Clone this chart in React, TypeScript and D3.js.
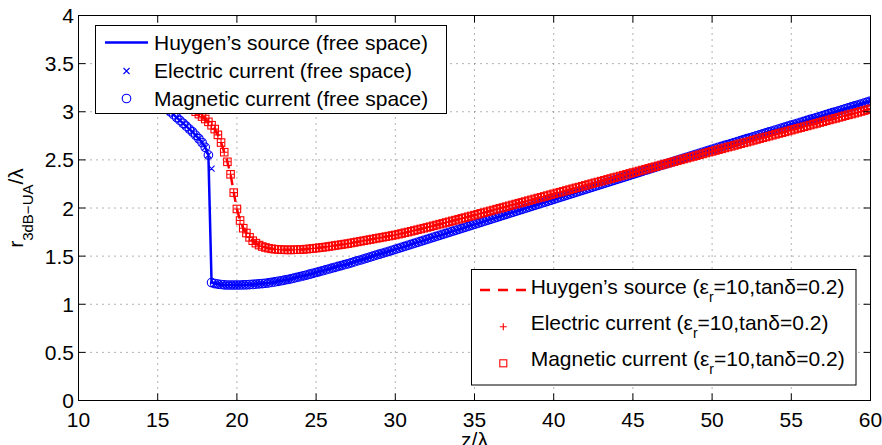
import React from 'react';
import * as d3 from 'd3';

// ---- sample grid (z/λ) ----
const zStart = 12;
const zStepSize = 0.2;
const zCount = 241;
const zGrid = d3.range(zCount).map((i) => +(zStart + i * zStepSize).toFixed(1));

// ---- free space: Huygen's source (also used by electric / magnetic current) ----
const huygenFree = [
  3.50, 3.475, 3.45, 3.42, 3.40,
  3.38, 3.35, 3.33, 3.30, 3.28,
  3.25, 3.22, 3.20, 3.17, 3.14,
  3.11, 3.08, 3.06, 3.03, 3.00,
  2.97, 2.94, 2.91, 2.88, 2.85,
  2.82, 2.79, 2.755, 2.72, 2.68,
  2.63, 2.55, 1.225, 1.215, 1.21,
  1.205, 1.202, 1.20, 1.20, 1.20,
  1.20, 1.20, 1.201, 1.202, 1.204,
  1.206, 1.209, 1.212, 1.215, 1.218,
  1.222, 1.227, 1.232, 1.238, 1.244,
  1.250, 1.257, 1.264, 1.271, 1.279,
  1.287, 1.295, 1.303, 1.312, 1.321,
  1.330, 1.339, 1.348, 1.357, 1.366,
  1.375, 1.384, 1.393, 1.402, 1.411,
  1.420, 1.430, 1.440, 1.450, 1.460,
  1.470, 1.480, 1.490, 1.500, 1.510,
  1.520, 1.530, 1.540, 1.550, 1.560,
  1.570, 1.580, 1.591, 1.601, 1.612,
  1.622, 1.632, 1.643, 1.653, 1.664,
  1.674, 1.684, 1.695, 1.705, 1.716,
  1.726, 1.736, 1.747, 1.757, 1.768,
  1.778, 1.788, 1.799, 1.809, 1.820,
  1.830, 1.840, 1.851, 1.861, 1.872,
  1.882, 1.892, 1.903, 1.913, 1.924,
  1.934, 1.944, 1.955, 1.965, 1.976,
  1.986, 1.996, 2.007, 2.017, 2.028,
  2.038, 2.048, 2.059, 2.069, 2.080,
  2.090, 2.100, 2.111, 2.121, 2.132,
  2.142, 2.152, 2.163, 2.173, 2.184,
  2.194, 2.204, 2.215, 2.225, 2.236,
  2.246, 2.256, 2.267, 2.277, 2.288,
  2.298, 2.308, 2.319, 2.329, 2.340,
  2.350, 2.360, 2.371, 2.381, 2.392,
  2.402, 2.412, 2.423, 2.433, 2.444,
  2.454, 2.464, 2.475, 2.485, 2.496,
  2.506, 2.516, 2.527, 2.537, 2.548,
  2.558, 2.568, 2.579, 2.589, 2.600,
  2.610, 2.620, 2.630, 2.640, 2.650,
  2.660, 2.670, 2.680, 2.690, 2.700,
  2.710, 2.720, 2.730, 2.740, 2.750,
  2.760, 2.770, 2.780, 2.790, 2.800,
  2.810, 2.820, 2.830, 2.840, 2.850,
  2.860, 2.870, 2.880, 2.890, 2.900,
  2.910, 2.920, 2.930, 2.940, 2.950,
  2.960, 2.970, 2.980, 2.990, 3.000,
  3.010, 3.020, 3.030, 3.040, 3.050,
  3.060, 3.070, 3.080, 3.090, 3.100,
  3.110,
];
// electric current (free space) differs from the Huygen's curve only here
const electricFreeDiffZ = [18.4];
const electricFreeDiffR = [2.41];

// ---- dielectric (εr=10, tanδ=0.2): Huygen's source (also electric / magnetic) ----
const huygenDiel = [
  3.75, 3.72, 3.69, 3.665, 3.64,
  3.61, 3.58, 3.55, 3.525, 3.50,
  3.47, 3.44, 3.41, 3.385, 3.36,
  3.33, 3.30, 3.27, 3.245, 3.22,
  3.19, 3.16, 3.13, 3.10, 3.075,
  3.05, 3.03, 3.00, 2.975, 2.95,
  2.925, 2.895, 2.86, 2.82, 2.76,
  2.68, 2.58, 2.48, 2.35, 2.16,
  1.99, 1.87, 1.79, 1.74, 1.695,
  1.66, 1.635, 1.615, 1.60, 1.59,
  1.582, 1.576, 1.572, 1.569, 1.567,
  1.566, 1.565, 1.565, 1.566, 1.567,
  1.568, 1.570, 1.573, 1.576, 1.579,
  1.583, 1.587, 1.591, 1.595, 1.600,
  1.605, 1.610, 1.615, 1.620, 1.625,
  1.630, 1.636, 1.642, 1.648, 1.654,
  1.660, 1.666, 1.672, 1.678, 1.684,
  1.690, 1.696, 1.702, 1.708, 1.714,
  1.720, 1.728, 1.735, 1.743, 1.750,
  1.758, 1.766, 1.774, 1.782, 1.790,
  1.798, 1.806, 1.815, 1.823, 1.832,
  1.840, 1.849, 1.857, 1.866, 1.874,
  1.883, 1.892, 1.900, 1.909, 1.917,
  1.926, 1.935, 1.944, 1.952, 1.961,
  1.970, 1.979, 1.988, 1.997, 2.005,
  2.014, 2.023, 2.032, 2.041, 2.050,
  2.058, 2.067, 2.076, 2.085, 2.094,
  2.103, 2.111, 2.120, 2.129, 2.138,
  2.147, 2.156, 2.164, 2.173, 2.182,
  2.191, 2.200, 2.209, 2.217, 2.226,
  2.235, 2.244, 2.253, 2.262, 2.270,
  2.279, 2.288, 2.297, 2.306, 2.315,
  2.323, 2.332, 2.341, 2.350, 2.359,
  2.368, 2.376, 2.385, 2.394, 2.403,
  2.412, 2.421, 2.429, 2.438, 2.447,
  2.456, 2.465, 2.474, 2.482, 2.491,
  2.500, 2.509, 2.518, 2.527, 2.535,
  2.544, 2.553, 2.562, 2.571, 2.580,
  2.588, 2.597, 2.606, 2.615, 2.624,
  2.633, 2.641, 2.650, 2.659, 2.668,
  2.677, 2.685, 2.694, 2.703, 2.712,
  2.721, 2.730, 2.738, 2.747, 2.756,
  2.765, 2.774, 2.782, 2.791, 2.800,
  2.809, 2.818, 2.827, 2.835, 2.844,
  2.853, 2.862, 2.871, 2.879, 2.888,
  2.897, 2.906, 2.915, 2.924, 2.932,
  2.941, 2.950, 2.959, 2.968, 2.976,
  2.985, 2.994, 3.003, 3.012, 3.021,
  3.030,
];

// ---- axes ----
const xTicks = [10, 15, 20, 25, 30, 35, 40, 45, 50, 55, 60];
const yTicks = [0, 0.5, 1, 1.5, 2, 2.5, 3, 3.5, 4];
const yTickLabels = ['0', '0.5', '1', '1.5', '2', '2.5', '3', '3.5', '4'];

const legendFree = [
  "Huygen\u2019s source (free space)",
  'Electric current (free space)',
  'Magnetic current (free space)',
];
const legendDielPrefix = ["Huygen\u2019s source (\u03b5", 'Electric current (\u03b5', 'Magnetic current (\u03b5'];
const legendDielSub = 'r';
const legendDielSuffix = '=10,tan\u03b4=0.2)';

const BLUE = '#0000ff';
const RED = '#ff0000';
const FONT = 'Liberation Sans, Arial, Helvetica, sans-serif';

type P = { z: number; r: number };

export default function App() {
  const W = 882, H = 445;
  const x = d3.scaleLinear().domain([10, 60]).range([78.5, 870.5]);
  const y = d3.scaleLinear().domain([0, 4]).range([400.5, 15.5]);
  const [x0, x1] = x.range();
  const [y0, y1] = y.range();

  const toPts = (arr: number[]): P[] => zGrid.map((z, i) => ({ z, r: arr[i] }));
  const freePts = toPts(huygenFree);
  const elecFreePts = freePts.map((p) => {
    const k = electricFreeDiffZ.indexOf(p.z);
    return k >= 0 ? { z: p.z, r: electricFreeDiffR[k] } : p;
  });
  const dielPts = toPts(huygenDiel);

  const line = d3.line<P>().x((d) => x(d.z)).y((d) => y(d.r));

  const xMark = (cx: number, cy: number, s = 3) =>
    `M${cx - s},${cy - s}L${cx + s},${cy + s}M${cx - s},${cy + s}L${cx + s},${cy - s}`;
  const plusMark = (cx: number, cy: number, s = 3.5) =>
    `M${cx - s},${cy}H${cx + s}M${cx},${cy - s}V${cy + s}`;

  const tickLen = 7;
  const sq = 7.5;

  return (
    <svg width={W} height={H} style={{ position: 'absolute', left: 0, top: 0, background: '#fff' }}
      fontFamily={FONT}>
      <rect x={0} y={0} width={W} height={H} fill="#fff" />
      <defs>
        <clipPath id="plotClip">
          <rect x={x0} y={y1} width={x1 - x0} height={y0 - y1} />
        </clipPath>
      </defs>
      {/* grid */}
      <g stroke="#666" strokeWidth={1} strokeDasharray="1,5">
        {xTicks.slice(1, -1).map((t) => (
          <line key={'gx' + t} x1={x(t)} x2={x(t)} y1={y0} y2={y1} />
        ))}
        {yTicks.slice(1, -1).map((t) => (
          <line key={'gy' + t} x1={x0} x2={x1} y1={y(t)} y2={y(t)} />
        ))}
      </g>

      {/* data */}
      <g clipPath="url(#plotClip)">
        <path d={line(freePts) || ''} fill="none" stroke={BLUE} strokeWidth={2.5} />
        <path
          d={elecFreePts.map((p) => xMark(x(p.z), y(p.r))).join('')}
          fill="none" stroke={BLUE} strokeWidth={1.1}
        />
        <g fill="none" stroke={BLUE} strokeWidth={1.1}>
          {freePts.map((p, i) => (
            <circle key={'mf' + i} cx={x(p.z)} cy={y(p.r)} r={4.3} />
          ))}
        </g>
        <path d={line(dielPts) || ''} fill="none" stroke={RED} strokeWidth={2.5} strokeDasharray="10,7" />
        <path
          d={dielPts.map((p) => plusMark(x(p.z), y(p.r))).join('')}
          fill="none" stroke={RED} strokeWidth={1.1}
        />
        <g fill="none" stroke={RED} strokeWidth={1.1}>
          {dielPts.map((p, i) => (
            <rect key={'md' + i} x={x(p.z) - sq / 2} y={y(p.r) - sq / 2} width={sq} height={sq} />
          ))}
        </g>
      </g>

      {/* axes box + ticks */}
      <rect x={x0} y={y1} width={x1 - x0} height={y0 - y1} fill="none" stroke="#000" strokeWidth={1} />
      <g stroke="#000" strokeWidth={1}>
        {xTicks.map((t) => (
          <g key={'tx' + t}>
            <line x1={x(t)} x2={x(t)} y1={y0} y2={y0 - tickLen} />
            <line x1={x(t)} x2={x(t)} y1={y1} y2={y1 + tickLen} />
          </g>
        ))}
        {yTicks.map((t) => (
          <g key={'ty' + t}>
            <line x1={x0} x2={x0 + tickLen} y1={y(t)} y2={y(t)} />
            <line x1={x1} x2={x1 - tickLen} y1={y(t)} y2={y(t)} />
          </g>
        ))}
      </g>
      <g fontSize={21} fill="#000">
        {xTicks.map((t) => (
          <text key={'lx' + t} x={x(t)} y={427} textAnchor="middle">{t}</text>
        ))}
        {yTicks.map((t, i) => (
          <text key={'ly' + t} x={74} y={y(t) + 7.5} textAnchor="end">{yTickLabels[i]}</text>
        ))}
      </g>

      {/* axis labels */}
      <text x={(x0 + x1) / 2} y={447} textAnchor="middle" fontSize={21}>z/{'\u03bb'}</text>
      <text transform={`translate(23,${(y0 + y1) / 2}) rotate(-90)`} textAnchor="middle" fontSize={21}>
        r<tspan dy={10} fontSize={15}>3dB{'\u2212'}UA</tspan><tspan dy={-10}>/{'\u03bb'}</tspan>
      </text>

      {/* legend: free space */}
      <g>
        <rect x={95.5} y={25.5} width={351} height={88} fill="#fff" stroke="#000" strokeWidth={1} />
        <line x1={105} x2={148} y1={42.5} y2={42.5} stroke={BLUE} strokeWidth={2.5} />
        <path d={xMark(126.5, 71)} stroke={BLUE} strokeWidth={1.1} fill="none" />
        <circle cx={126.5} cy={98.5} r={4.3} stroke={BLUE} strokeWidth={1.1} fill="none" />
        <g fontSize={21} fill="#000">
          <text x={154} y={50}>{legendFree[0]}</text>
          <text x={154} y={78}>{legendFree[1]}</text>
          <text x={154} y={106}>{legendFree[2]}</text>
        </g>
      </g>

      {/* legend: dielectric */}
      <g>
        <rect x={471.5} y={269.5} width={384.5} height={115.5} fill="#fff" stroke="#000" strokeWidth={1} />
        <line x1={480} x2={526} y1={290} y2={290} stroke={RED} strokeWidth={2.5} strokeDasharray="10,8" />
        <path d={plusMark(503.3, 326.7)} stroke={RED} strokeWidth={1.1} fill="none" />
        <rect x={503.3 - 3.5} y={363.3 - 3.5} width={7} height={7} stroke={RED} strokeWidth={1.1} fill="none" />
        <g fontSize={21} fill="#000">
          {[294.3, 330, 366].map((by, i) => (
            <text key={'ld' + i} x={530.7} y={by}>
              {legendDielPrefix[i]}
              <tspan dy={8} fontSize={14}>{legendDielSub}</tspan>
              <tspan dy={-8}>{legendDielSuffix}</tspan>
            </text>
          ))}
        </g>
      </g>
    </svg>
  );
}
